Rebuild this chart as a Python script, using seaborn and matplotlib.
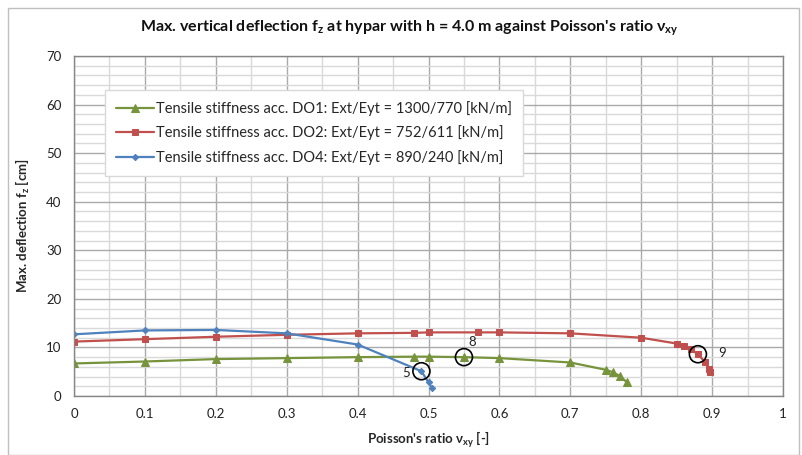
import matplotlib
matplotlib.use("Agg")
import matplotlib.pyplot as plt
import seaborn as sns
import pandas as pd
from matplotlib.patches import Rectangle
from matplotlib.ticker import MultipleLocator

# ---- data ----
x_do1 = [0.0, 0.1, 0.2, 0.3, 0.4, 0.48, 0.5, 0.55, 0.6, 0.7, 0.75, 0.76, 0.77, 0.78]
y_do1 = [6.7, 7.1, 7.6, 7.8, 8.0, 8.1, 8.1, 8.0, 7.8, 6.9, 5.4, 4.9, 4.1, 2.8]

x_do2 = [0.0, 0.1, 0.2, 0.3, 0.4, 0.48, 0.5, 0.57, 0.6, 0.7, 0.8, 0.85, 0.86, 0.87, 0.88, 0.89, 0.895, 0.897]
y_do2 = [11.2, 11.7, 12.2, 12.6, 12.9, 13.0, 13.1, 13.1, 13.1, 12.9, 12.0, 10.8, 10.3, 9.6, 8.6, 7.0, 5.6, 5.0]

x_do4 = [0.0, 0.1, 0.2, 0.3, 0.4, 0.49, 0.5, 0.505]
y_do4 = [12.7, 13.5, 13.6, 12.9, 10.6, 5.1, 2.8, 1.6]

labels = ["Tensile stiffness acc. DO1: Ext/Eyt = 1300/770 [kN/m]",
          "Tensile stiffness acc. DO2: Ext/Eyt = 752/611 [kN/m]",
          "Tensile stiffness acc. DO4: Ext/Eyt = 890/240 [kN/m]"]

# highlighted points (x, y, label)
hl_x = [0.49, 0.55, 0.88]
hl_y = [5.1, 8.0, 8.6]
hl_text = ["5", "8", "9"]

x_ticks = [0, 0.1, 0.2, 0.3, 0.4, 0.5, 0.6, 0.7, 0.8, 0.9, 1]
x_ticklabels = ["0", "0.1", "0.2", "0.3", "0.4", "0.5", "0.6", "0.7", "0.8", "0.9", "1"]
y_ticks = [0, 10, 20, 30, 40, 50, 60, 70]

# ---- style ----
sns.set_style("white")
plt.rcParams['font.family'] = ['Lato', 'DejaVu Sans']
plt.rcParams['mathtext.fontset'] = 'custom'
plt.rcParams['mathtext.rm'] = 'Lato'
plt.rcParams['mathtext.it'] = 'Lato:italic'
plt.rcParams['mathtext.bf'] = 'Lato:bold'

green = "#77933C"
red = "#C0504D"
blue = "#4F81BD"

fig = plt.figure(figsize=(8.02, 4.55), dpi=100)
ax = fig.add_axes([74/802, 1-396/455, (783-74)/802, (396-56)/455])

df1 = pd.DataFrame({"x": x_do1, "y": y_do1})
df2 = pd.DataFrame({"x": x_do2, "y": y_do2})
df4 = pd.DataFrame({"x": x_do4, "y": y_do4})

sns.lineplot(data=df1, x="x", y="y", ax=ax, sort=False, color=green, lw=1.6,
             marker="^", markersize=5.5, markeredgecolor=green, label=labels[0])
sns.lineplot(data=df2, x="x", y="y", ax=ax, sort=False, color=red, lw=1.6,
             marker="s", markersize=4.8, markeredgecolor=red, label=labels[1])
sns.lineplot(data=df4, x="x", y="y", ax=ax, sort=False, color=blue, lw=1.6,
             marker="D", markersize=3.2, markeredgecolor=blue, label=labels[2])

ax.scatter(hl_x, hl_y, s=150, facecolors="none", edgecolors="black", linewidths=1.2, zorder=5)
offsets = [(-0.021, -0.4), (0.011, 3.1), (0.034, 0.3)]
for xx, yy, t, (dx, dy) in zip(hl_x, hl_y, hl_text, offsets):
    ax.text(xx + dx, yy + dy, t, fontsize=9.5, ha="center", va="center", color="#222222")

ax.set_xlim(0, 1)
ax.set_ylim(0, 70)
ax.set_xticks(x_ticks)
ax.set_xticklabels(x_ticklabels)
ax.set_yticks(y_ticks)
ax.xaxis.set_minor_locator(MultipleLocator(0.05))
ax.yaxis.set_minor_locator(MultipleLocator(2))
ax.grid(which="major", color="#AAAAAA", lw=1.0)
ax.grid(which="minor", color="#D9D9D9", lw=1.0)
ax.set_axisbelow(True)
ax.tick_params(axis="both", which="both", length=0, labelsize=9.5, colors="#222222")
ax.tick_params(axis="x", pad=9)
ax.tick_params(axis="y", pad=9)
for s in ax.spines.values():
    s.set_color("#868686")
    s.set_linewidth(1.0)

ax.set_xlabel(r"Poisson's ratio ν$_{\mathregular{xy}}$ [-]", fontsize=9.5, fontweight="bold", labelpad=6)
ax.set_ylabel(r"Max. deflection f$_{\mathregular{z}}$ [cm]", fontsize=9.5, fontweight="bold", labelpad=10)
fig.text(0.5 + 0.01, 1 - 28/455,
         r"Max. vertical deflection f$_{\mathregular{z}}$ at hypar with h = 4.0 m against Poisson's ratio ν$_{\mathregular{xy}}$",
         ha="center", va="center", fontsize=11.5, fontweight="bold", color="#111111")

leg = ax.legend(loc="upper left", bbox_to_anchor=((105-74)/709, (396-90)/340),
                frameon=True, fancybox=False, fontsize=10.5, framealpha=1,
                edgecolor="#D9D9D9", handlelength=2.6, handletextpad=0.15,
                labelspacing=0.65, borderpad=0.75, borderaxespad=0)
leg.get_frame().set_linewidth(1.0)

fig.patches.append(Rectangle((8/802, 0), (799-8)/802, 1 - 8/455, transform=fig.transFigure,
                             fill=False, edgecolor="#BFBFBF", lw=1.0))

fig.savefig("out.png", dpi=100)
